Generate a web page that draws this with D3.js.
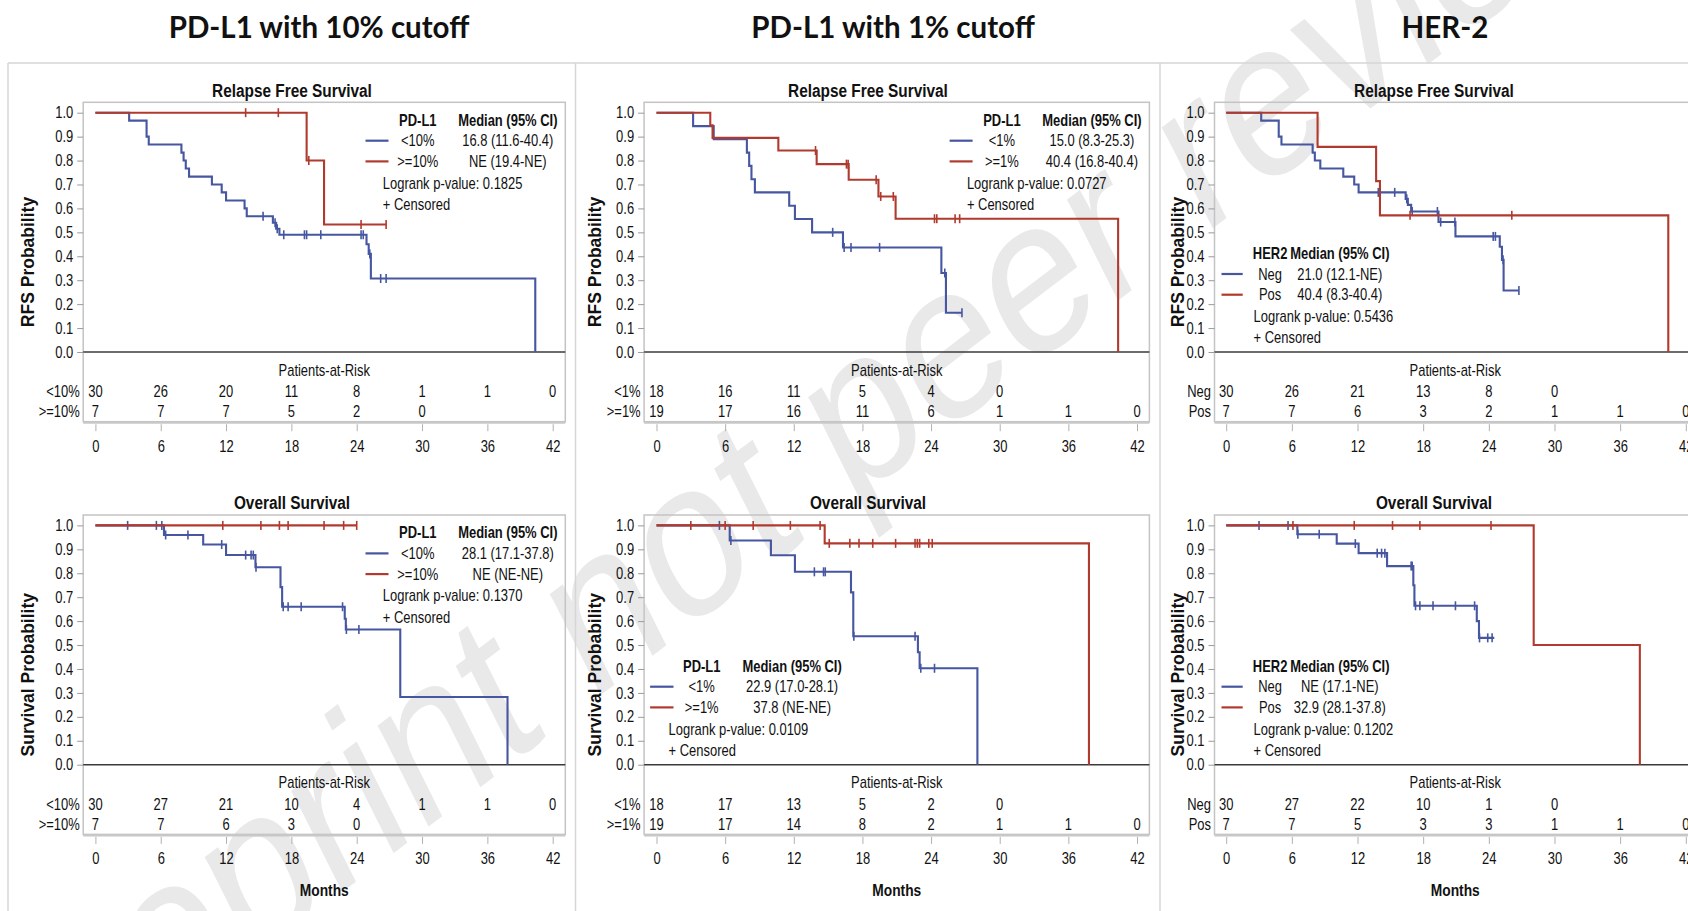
<!DOCTYPE html>
<html>
<head>
<meta charset="utf-8">
<script src="https://cdn.jsdelivr.net/npm/d3@7"></script>
<style>
body { margin: 0; background: #fff; }
svg text { font-family: "Liberation Sans", Arial, sans-serif; fill: #111; }
</style>
</head>
<body>
<svg id="chart" width="1688" height="911"></svg>
<script>
// ---- text / labels
var groupTitles = ['PD-L1 with 10% cutoff', 'PD-L1 with 1% cutoff', 'HER-2'];
var panelTitles = ['Relapse Free Survival', 'Overall Survival'];
var yAxisTitles = ['RFS Probability', 'Survival Probability'];
var groupHeads = ['PD-L1', 'PD-L1', 'HER2'];
var groupLabels = [['<10%', '>=10%'], ['<1%', '>=1%'], ['Neg', 'Pos']];
var rfsMedians = [['16.8 (11.6-40.4)', 'NE (19.4-NE)'], ['15.0 (8.3-25.3)', '40.4 (16.8-40.4)'], ['21.0 (12.1-NE)', '40.4 (8.3-40.4)']];
var osMedians = [['28.1 (17.1-37.8)', 'NE (NE-NE)'], ['22.9 (17.0-28.1)', '37.8 (NE-NE)'], ['NE (17.1-NE)', '32.9 (28.1-37.8)']];
var rfsPValues = ['0.1825', '0.0727', '0.5436'];
var osPValues = ['0.1370', '0.0109', '0.1202'];
var monthTicks = [0, 6, 12, 18, 24, 30, 36, 42];
var probTicks = [0, 0.1, 0.2, 0.3, 0.4, 0.5, 0.6, 0.7, 0.8, 0.9, 1.0];

// ---- patients at risk (at 0,6,12,...)
var rfsRisk = [[[30, 26, 20, 11, 8, 1, 1, 0], [7, 7, 7, 5, 2, 0]],
               [[18, 16, 11, 5, 4, 0], [19, 17, 16, 11, 6, 1, 1, 0]],
               [[30, 26, 21, 13, 8, 0], [7, 7, 6, 3, 2, 1, 1, 0]]];
var osRisk = [[[30, 27, 21, 10, 4, 1, 1, 0], [7, 7, 6, 3, 0]],
              [[18, 17, 13, 5, 2, 0], [19, 17, 14, 8, 2, 1, 1, 0]],
              [[30, 27, 22, 10, 1, 0], [7, 7, 5, 3, 3, 1, 1, 0]]];

// ---- KM steps [month, survival from that month on] and censor months
var rfs10Low = [[0, 1], [3.1, 0.967], [4.7, 0.9], [4.9, 0.867], [7.9, 0.833], [8.1, 0.8], [8.3, 0.767], [8.6, 0.733], [10.7, 0.7], [11.6, 0.667], [12.0, 0.633], [13.7, 0.6], [13.9, 0.567], [16.3, 0.54], [16.6, 0.515], [16.9, 0.49], [24.9, 0.45], [25.1, 0.41], [25.3, 0.307], [40.4, 0]];
var rfs10LowCens = [15.4, 16.5, 16.7, 17.3, 19.2, 19.4, 20.7, 24.4, 24.6, 25.2, 26.2, 26.7];
var rfs10High = [[0, 1], [19.4, 0.8], [21.0, 0.533], [26.7, 0.533]];
var rfs10HighCens = [13.8, 16.8, 19.6, 24.4, 26.7];

var os10Low = [[0, 1], [6.3, 0.96], [9.9, 0.92], [12.0, 0.876], [14.7, 0.825], [17.0, 0.742], [17.15, 0.66], [22.9, 0.61], [23.0, 0.565], [28.0, 0.283], [37.85, 0]];
var os10LowCens = [2.96, 5.6, 6.1, 6.45, 8.5, 11.6, 13.8, 14.3, 14.5, 14.75, 17.25, 17.7, 18.9, 22.7, 23.05, 24.2];
var os10High = [[0, 1], [24.0, 1]];
var os10HighCens = [11.7, 15.2, 16.9, 17.7, 21.0, 22.8, 24.0];

var rfs1Low = [[0, 1], [3.2, 0.944], [5.0, 0.889], [7.9, 0.833], [8.1, 0.778], [8.3, 0.722], [8.6, 0.667], [11.6, 0.611], [12.1, 0.556], [13.6, 0.5], [16.3, 0.437], [24.9, 0.33], [25.3, 0.164], [26.7, 0.164]];
var rfs1LowCens = [15.4, 16.4, 17.0, 19.5, 25.2, 26.7];
var rfs1High = [[0, 1], [4.7, 0.947], [4.9, 0.895], [10.65, 0.842], [14.0, 0.785], [16.8, 0.72], [19.4, 0.65], [20.9, 0.557], [40.35, 0]];
var rfs1HighCens = [13.9, 16.6, 16.75, 19.2, 19.6, 20.7, 24.3, 24.5, 26.1, 26.5];

var os1Low = [[0, 1], [6.4, 0.937], [10.0, 0.875], [12.1, 0.806], [17.0, 0.72], [17.2, 0.537], [22.85, 0.47], [23.0, 0.403], [28.05, 0]];
var os1LowCens = [5.5, 6.5, 13.8, 14.6, 14.75, 17.25, 22.6, 23.1, 24.3];
var os1High = [[0, 1], [14.7, 0.925], [37.8, 0]];
var os1HighCens = [3.0, 6.0, 8.45, 11.7, 14.3, 15.1, 16.9, 17.7, 18.9, 20.9, 22.6, 22.8, 23.0, 23.8, 24.1];

var rfsNeg = [[0, 1], [3.2, 0.967], [4.8, 0.9], [5.05, 0.867], [7.9, 0.833], [8.1, 0.8], [8.6, 0.767], [10.7, 0.733], [11.7, 0.7], [12.1, 0.667], [16.4, 0.64], [16.6, 0.615], [16.9, 0.587], [19.4, 0.543], [20.95, 0.483], [25.0, 0.44], [25.2, 0.385], [25.35, 0.257], [26.75, 0.257]];
var rfsNegCens = [13.9, 15.4, 16.5, 17.0, 19.3, 19.6, 20.9, 24.4, 24.6, 25.3, 26.75];
var rfsPos = [[0, 1], [8.35, 0.857], [13.7, 0.714], [14.05, 0.571], [40.4, 0]];
var rfsPosCens = [16.8, 26.1];

var osNeg = [[0, 1], [6.5, 0.963], [10.1, 0.924], [12.1, 0.884], [14.7, 0.83], [17.1, 0.75], [17.2, 0.664], [22.9, 0.6], [23.1, 0.53], [24.5, 0.53]];
var osNegCens = [3.0, 5.65, 6.55, 8.5, 11.8, 13.8, 14.2, 14.5, 16.9, 17.0, 17.3, 17.7, 18.9, 20.95, 22.7, 23.15, 23.9, 24.3];
var osPos = [[0, 1], [28.1, 0.5], [37.8, 0]];
var osPosCens = [6.1, 11.7, 15.2, 17.7, 24.2];

var blue = '#4656a0', red = '#b03a2e';

// ---- layout
var svg = d3.select('#chart');
var squeezeK = 0.81; // the SAS output is horizontally squeezed
var cols = [
  {frameL: 83.2, frameR: 565.3, x0: 95.4, x42: 552.7, titleX: 292, yTitleX: 27.7, headX: 319},
  {frameL: 644.1, frameR: 1149.4, x0: 656.5, x42: 1137, titleX: 868, yTitleX: 594.5, headX: 893},
  {frameL: 1214.5, frameR: 1696, x0: 1226.2, x42: 1685.8, titleX: 1434, yTitleX: 1177.5, headX: 1445}
];
var rowOff = [0, 412.7];
var legendPos = {
  tr: {lx1: -199.8, lx2: -176.8, gx: -147.5, mx: -57.5, tx: -182.5, y: 120, fromRight: true},
  bl1: {lx1: 6, lx2: 29.4, gx: 57.6, mx: 148, tx: 24.5, y: 253.3},
  bl2: {lx1: 7, lx2: 28.2, gx: 55.6, mx: 125.3, tx: 39.1, y: 253.3}
};

var panels = [
  {col: 0, row: 0, legend: 'tr', curves: [[rfs10Low, rfs10LowCens, blue], [rfs10High, rfs10HighCens, red]], risk: rfsRisk[0], med: rfsMedians[0], p: rfsPValues[0]},
  {col: 0, row: 1, legend: 'tr', curves: [[os10Low, os10LowCens, blue], [os10High, os10HighCens, red]], risk: osRisk[0], med: osMedians[0], p: osPValues[0]},
  {col: 1, row: 0, legend: 'tr', curves: [[rfs1Low, rfs1LowCens, blue], [rfs1High, rfs1HighCens, red]], risk: rfsRisk[1], med: rfsMedians[1], p: rfsPValues[1]},
  {col: 1, row: 1, legend: 'bl1', curves: [[os1Low, os1LowCens, blue], [os1High, os1HighCens, red]], risk: osRisk[1], med: osMedians[1], p: osPValues[1]},
  {col: 2, row: 0, legend: 'bl2', curves: [[rfsNeg, rfsNegCens, blue], [rfsPos, rfsPosCens, red]], risk: rfsRisk[2], med: rfsMedians[2], p: rfsPValues[2]},
  {col: 2, row: 1, legend: 'bl2', curves: [[osNeg, osNegCens, blue], [osPos, osPosCens, red]], risk: osRisk[2], med: osMedians[2], p: osPValues[2]}
];

// watermark (under everything), squeezed like the rest of the figure
svg.append('text')
  .attr('transform', 'scale(' + squeezeK + ',1) translate(5,1150) rotate(-31.7)')
  .style('font-size', '225px')
  .style('fill', '#e9e9e9')
  .text('Preprint not peer reviewed');

// outer panel borders
var borderColor = '#d6d6d6';
svg.append('line').attr('x1', 8).attr('x2', 1688).attr('y1', 63).attr('y2', 63).attr('stroke', borderColor).attr('stroke-width', 1.5);
[8, 575.5, 1160].forEach(function(bx){
  svg.append('line').attr('x1', bx).attr('x2', bx).attr('y1', 63).attr('y2', 911).attr('stroke', borderColor).attr('stroke-width', 1.5);
});

// group headers
groupTitles.forEach(function(t, i){
  svg.append('text')
    .attr('x', cols[i].headX).attr('y', 27).attr('dy', '0.36em')
    .attr('text-anchor', 'middle')
    .style('font-family', 'Lato, "Noto Sans", sans-serif')
    .style('font-weight', 700).style('font-size', '29.5px')
    .text(t);
});

function survAt(steps, t){
  var s = 1;
  for(var i=0; i<steps.length; i++){
    if(steps[i][0] <= t) s = steps[i][1];
  }
  return s;
}

// squeeze a text horizontally around its own anchor
function squeeze(sel){
  sel.each(function(){
    var t = d3.select(this);
    var x = +t.attr('x') || 0, y = +t.attr('y') || 0;
    t.attr('x', 0).attr('y', 0)
     .attr('transform', 'translate(' + x + ',' + y + ') scale(' + squeezeK + ',1)');
  });
}

function addText(g, x, y, str, size, bold, anchor){
  return g.append('text').attr('class', 'nar')
    .attr('x', x).attr('y', y).attr('dy', '0.35em')
    .attr('text-anchor', anchor || 'middle')
    .style('font-size', size + 'px')
    .style('font-weight', bold ? 700 : 400)
    .text(str);
}

function drawPanel(p){
  var c = cols[p.col], off = rowOff[p.row];
  var x = d3.scaleLinear().domain([0, 42]).range([c.x0, c.x42]);
  var y = d3.scaleLinear().domain([0, 1]).range([352 + off, 112.7 + off]);
  var g = svg.append('g');
  var frameT = 102.3 + off, frameB = 421.7 + off;

  // frame
  g.append('rect')
    .attr('x', c.frameL).attr('y', frameT)
    .attr('width', c.frameR - c.frameL).attr('height', frameB - frameT)
    .attr('fill', 'none').attr('stroke', '#c4c4c4').attr('stroke-width', 1.5);
  g.append('line')
    .attr('x1', c.frameL).attr('x2', c.frameR)
    .attr('y1', frameB + 1).attr('y2', frameB + 1)
    .attr('stroke', '#c8c8c8').attr('stroke-width', 2);

  // zero line
  g.append('line')
    .attr('x1', c.frameL).attr('x2', c.frameR)
    .attr('y1', y(0)).attr('y2', y(0))
    .attr('stroke', '#3a3a3a').attr('stroke-width', 1.6);

  // y axis
  var yAxis = d3.axisLeft(y).tickValues(probTicks).tickFormat(d3.format('.1f')).tickSize(6).tickPadding(4);
  var ya = g.append('g').attr('transform', 'translate(' + c.frameL + ',0)').call(yAxis);
  ya.select('.domain').remove();
  ya.selectAll('line').attr('stroke', '#9a9a9a');
  ya.selectAll('text').attr('class', 'nar').style('font-size', '16px').style('font-family', null).attr('fill', '#111');

  // x axis under risk table
  var xAxis = d3.axisBottom(x).tickValues(monthTicks).tickSize(7).tickPadding(9);
  var xa = g.append('g').attr('transform', 'translate(0,' + (frameB + 2.5) + ')').call(xAxis);
  xa.select('.domain').remove();
  xa.selectAll('line').attr('stroke', '#b0b0b0');
  xa.selectAll('text').attr('class', 'nar').style('font-size', '16px').style('font-family', null).attr('fill', '#111');

  // titles
  addText(g, c.titleX, 90 + off, panelTitles[p.row], 19, true);
  g.append('text')
    .attr('transform', 'translate(' + c.yTitleX + ',' + ((frameT + frameB) / 2) + ') rotate(-90)')
    .attr('dy', '0.35em').attr('text-anchor', 'middle')
    .style('font-weight', 700).style('font-size', '17.5px')
    .text(yAxisTitles[p.row]);
  if(p.row == 1){
    addText(g, (c.frameL + c.frameR) / 2, 890, 'Months', 17, true);
  }

  // curves
  var line = d3.line().x(function(d){ return x(d[0]); }).y(function(d){ return y(d[1]); }).curve(d3.curveStepAfter);
  p.curves.forEach(function(cv){
    g.append('path').datum(cv[0])
      .attr('d', line).attr('fill', 'none')
      .attr('stroke', cv[2]).attr('stroke-width', 2.1);
    g.selectAll(null).data(cv[1]).enter().append('line')
      .attr('x1', function(d){ return x(d); }).attr('x2', function(d){ return x(d); })
      .attr('y1', function(d){ return y(survAt(cv[0], d)) - 4.5; })
      .attr('y2', function(d){ return y(survAt(cv[0], d)) + 4.5; })
      .attr('stroke', cv[2]).attr('stroke-width', 1.6);
  });

  // legend
  var L = legendPos[p.legend];
  var base = L.fromRight ? c.frameR : c.frameL;
  var ly = L.y + off, step = 20.7;
  addText(g, base + L.gx, ly, groupHeads[p.col], 16, true);
  addText(g, base + L.mx, ly, 'Median (95% CI)', 16, true);
  [blue, red].forEach(function(col, i){
    var ry = ly + step * (i + 1);
    g.append('line').attr('x1', base + L.lx1).attr('x2', base + L.lx2)
      .attr('y1', ry).attr('y2', ry).attr('stroke', col).attr('stroke-width', 2.2);
    addText(g, base + L.gx, ry, groupLabels[p.col][i], 16, false);
    addText(g, base + L.mx, ry, p.med[i], 16, false);
  });
  addText(g, base + L.tx, ly + step * 3 + 1, 'Logrank p-value: ' + p.p, 16, false, 'start');
  addText(g, base + L.tx, ly + step * 4 + 1.5, '+ Censored', 16, false, 'start');

  // patients at risk
  addText(g, (c.frameL + c.frameR) / 2, 370 + off, 'Patients-at-Risk', 16, false);
  p.risk.forEach(function(vals, i){
    var ry = 391.7 + off + i * 20;
    addText(g, c.frameL - 3.5, ry, groupLabels[p.col][i], 16, false, 'end');
    g.selectAll(null).data(vals).enter().append('text')
      .attr('class', 'nar')
      .attr('x', function(d, k){ return x(monthTicks[k]); })
      .attr('y', ry).attr('dy', '0.35em')
      .attr('text-anchor', 'middle').style('font-size', '16px')
      .text(function(d){ return d; });
  });
}

panels.forEach(drawPanel);
squeeze(svg.selectAll('text.nar'));
</script>
</body>
</html>
